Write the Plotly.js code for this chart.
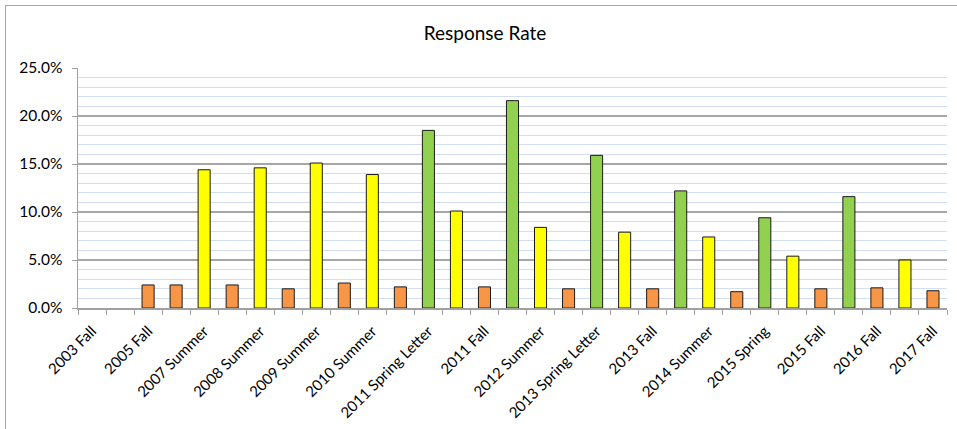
<!DOCTYPE html>
<html>
<head>
<meta charset="utf-8">
<script src="https://cdn.plot.ly/plotly-3.0.1.min.js"></script>
<style>
  html, body { margin: 0; padding: 0; background: #fff; overflow: hidden; }
  #chart { position: absolute; left: 0; top: 0; width: 957px; height: 429px; }
  #frame { position: absolute; left: 5px; top: 5px; width: 1000px; height: 500px;
           border-left: 1px solid #A6A6A6; border-top: 1px solid #A6A6A6; pointer-events: none; }
</style>
</head>
<body>
<div id="chart"></div>
<div id="frame"></div>
<script>
// Survey waves in order
const categories = [
  "2003 Fall", "2004 Fall", "2005 Fall", "2006 Fall", "2007 Summer", "2007 Fall",
  "2008 Summer", "2008 Fall", "2009 Summer", "2009 Fall", "2010 Summer", "2010 Fall",
  "2011 Spring Letter", "2011 Summer", "2011 Fall", "2012 Spring Letter", "2012 Summer",
  "2012 Fall", "2013 Spring Letter", "2013 Summer", "2013 Fall", "2014 Spring",
  "2014 Summer", "2014 Fall", "2015 Spring", "2015 Summer", "2015 Fall", "2016 Spring",
  "2016 Fall", "2017 Summer", "2017 Fall"
];
// Response rate (fraction)
const responseRate = [
  null, null, 0.024, 0.024, 0.144, 0.024,
  0.146, 0.020, 0.151, 0.026, 0.139, 0.022,
  0.185, 0.101, 0.022, 0.216, 0.084,
  0.020, 0.159, 0.079, 0.020, 0.122,
  0.074, 0.017, 0.094, 0.054, 0.020, 0.116,
  0.021, 0.050, 0.018
];
// Only every other category label is shown on the axis
const tickLabels = categories.map((c, i) => (i % 2 === 0 ? c : ""));
const yTickVals = [0, 0.05, 0.10, 0.15, 0.20, 0.25];

const seasonColor = { Spring: "#92D050", Summer: "#FFFF00", Fall: "#F79646" };
const barColors = categories.map(c => {
  if (c.indexOf("Spring") >= 0) return seasonColor.Spring;
  if (c.indexOf("Summer") >= 0) return seasonColor.Summer;
  return seasonColor.Fall;
});

const FONT = "Lato, 'Open Sans', sans-serif";

const trace = {
  type: "bar",
  x: categories,
  y: responseRate,
  marker: { color: barColors, line: { color: "#1a1a1a", width: 1 } },
  hoverinfo: "skip"
};

const layout = {
  width: 957,
  height: 429,
  margin: { l: 78, r: 10, t: 68, b: 121, pad: 0 },
  paper_bgcolor: "#ffffff",
  plot_bgcolor: "#ffffff",
  showlegend: false,
  bargap: 0.57,
  font: { family: FONT, color: "#000000", size: 13 },
  title: {
    text: "Response Rate",
    font: { family: FONT, size: 19, color: "#000000" },
    xref: "container", x: 485 / 957, xanchor: "center",
    yref: "container", y: 1 - 33 / 429, yanchor: "middle"
  },
  xaxis: {
    type: "category",
    tickmode: "array",
    tickvals: categories,
    ticktext: tickLabels,
    tickangle: -45,
    tickson: "boundaries",
    ticks: "outside",
    ticklen: 5,
    tickcolor: "#A0A0A0",
    showline: true,
    linecolor: "#A0A0A0",
    linewidth: 1.5,
    showgrid: false,
    zeroline: false,
    ticklabelstandoff: 7,
    tickfont: { family: FONT, size: 15, color: "#000000" },
    range: [-0.5, categories.length - 0.5]
  },
  yaxis: {
    range: [0, 0.25],
    tickmode: "array",
    tickvals: yTickVals,
    tickformat: ".1%",
    ticks: "outside",
    ticklen: 5,
    tickcolor: "#A0A0A0",
    showline: true,
    linecolor: "#A0A0A0",
    linewidth: 1.5,
    showgrid: true,
    gridcolor: "#A6A6A6",
    gridwidth: 1.5,
    zeroline: false,
    ticklabelstandoff: 6,
    tickfont: { family: FONT, size: 15.5, color: "#000000" },
    minor: { dtick: 0.01, tick0: 0, showgrid: true, gridcolor: "#D3DFEE", gridwidth: 1.3, ticks: "" }
  }
};

Plotly.newPlot("chart", [trace], layout, { staticPlot: true, displayModeBar: false });
</script>
</body>
</html>
